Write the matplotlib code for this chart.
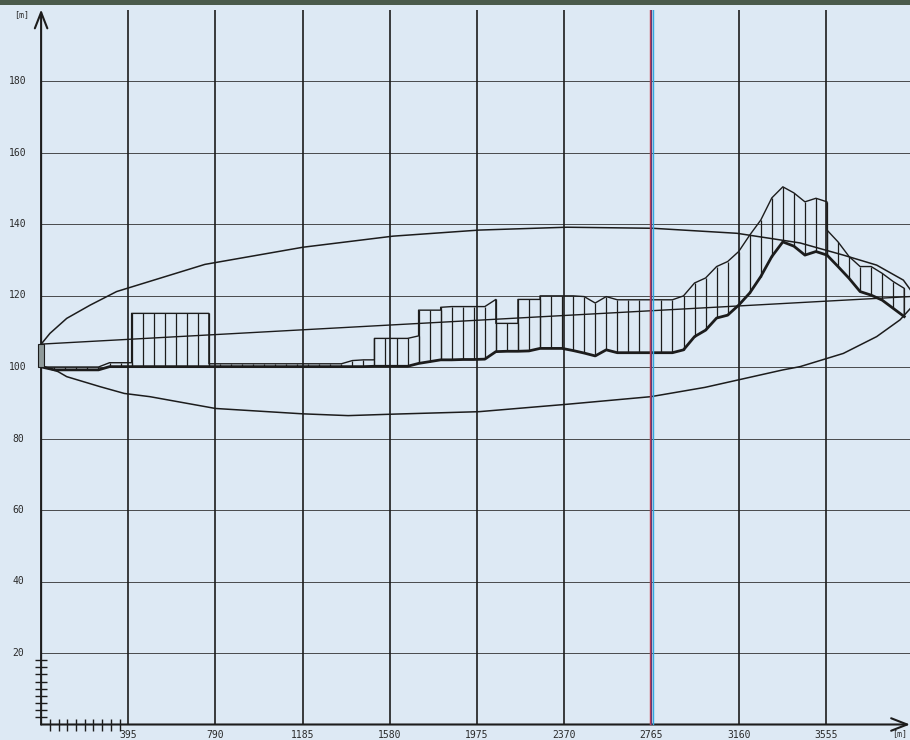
import numpy as np
import matplotlib.pyplot as plt
from matplotlib.patches import Rectangle

# chainage grid [m] and elevation grid [m]
grid_x = [395, 790, 1185, 1580, 1975, 2370, 2765, 3160, 3555]
grid_y = [20, 40, 60, 80, 100, 120, 140, 160, 180]
x_labels = ["395", "790", "1185", "1580", "1975", "2370", "2765", "3160", "3555"]

# profile stations: upper (thin) line, lower (thick) line
# a station listed twice is a vertical step in the upper line
station = [0, 10, 60, 110, 160, 210, 260, 310, 360, 410, 410, 460, 510, 560, 610, 660, 710, 760, 760,
           810, 860, 910, 960, 1010, 1060, 1110, 1160, 1210, 1260, 1310, 1360, 1410, 1460, 1510, 1510,
           1560, 1610, 1660, 1710, 1710, 1760, 1810, 1810, 1860, 1910, 1960, 2010, 2060, 2060, 2110,
           2160, 2160, 2210, 2260, 2260, 2310, 2360, 2410, 2460, 2510, 2560, 2610, 2660, 2710, 2760,
           2810, 2860, 2910, 2960, 3010, 3060, 3110, 3160, 3210, 3260, 3310, 3360, 3410, 3460, 3510,
           3560, 3560, 3610, 3660, 3710, 3760, 3810, 3860, 3910, 3910]
upper = [100.1, 100.0, 100.0, 100.0, 100.0, 100.0, 100.0, 101.2, 101.2, 101.2, 115.0, 115.0, 115.0, 115.0, 115.0, 115.0, 115.0, 115.0, 100.9,
         100.9, 100.9, 100.9, 100.9, 100.9, 100.9, 100.9, 100.9, 100.9, 100.9, 100.9, 100.9, 101.8, 102.0, 102.0, 108.0,
         108.0, 108.0, 108.0, 108.7, 115.9, 115.9, 115.9, 116.7, 116.9, 116.9, 116.9, 116.9, 118.9, 112.2, 112.2,
         112.2, 118.9, 118.9, 118.9, 119.9, 119.9, 119.9, 119.9, 119.7, 117.9, 119.7, 118.8, 118.8, 118.8, 118.8,
         118.8, 118.8, 119.9, 123.5, 124.9, 128.1, 129.5, 132.3, 136.9, 141.1, 147.3, 150.4, 148.7, 146.2, 147.2,
         146.2, 138.3, 135.0, 130.9, 128.1, 128.1, 126.2, 123.9, 122.0, 114.1]
lower = [100.1, 99.9, 99.2, 99.2, 99.2, 99.2, 99.2, 100.1, 100.1, 100.1, 100.1, 100.1, 100.1, 100.1, 100.1, 100.1, 100.1, 100.1, 100.1,
         100.1, 100.1, 100.1, 100.1, 100.1, 100.1, 100.1, 100.1, 100.1, 100.1, 100.1, 100.1, 100.1, 100.1, 100.2, 100.2,
         100.2, 100.2, 100.2, 101.0, 101.0, 101.5, 102.0, 102.0, 102.0, 102.1, 102.1, 102.2, 104.3, 104.3, 104.4,
         104.4, 104.4, 104.5, 105.2, 105.2, 105.2, 105.2, 104.6, 103.9, 103.1, 104.8, 104.0, 104.0, 104.0, 104.0,
         104.0, 104.0, 104.8, 108.5, 110.3, 113.7, 114.5, 117.3, 120.7, 125.3, 130.9, 135.0, 133.8, 131.3, 132.3,
         131.3, 131.3, 128.1, 124.8, 121.1, 120.1, 118.7, 116.4, 114.1, 114.1]

# straight regression line
trend_x = [0, 3936]
trend_y = [106.4, 119.7]

# envelope curve around the profile
env_x = [-30, 3, 40, 116, 222, 342, 742, 1186, 1594, 1984, 2382, 2772, 3152, 3438, 3634, 3785, 3906, 3972,
         3891, 3785, 3634, 3438, 3361, 3007, 2762, 2387, 1983, 1588, 1391, 1185, 790, 493, 377, 267, 116, 77, 2, -30]
env_y = [103.5, 106.6, 109.4, 113.6, 117.3, 121.1, 128.7, 133.5, 136.6, 138.3, 139.1, 138.8, 137.4, 134.7, 131.3, 128.5, 124.3, 118.7,
         113.2, 108.5, 103.8, 100.1, 99.2, 94.3, 91.7, 89.6, 87.5, 86.8, 86.4, 86.9, 88.4, 91.7, 92.6, 94.5, 97.3, 98.7, 100.3, 103.5]

start_mark = (100.0, 106.4)
marked_x = 2765

bg = "#dde9f4"
ink = "#1c1c1c"
font = "DejaVu Sans Mono"

fig = plt.figure(figsize=(9.1, 7.4), dpi=100, facecolor=bg)
ax = fig.add_axes([41.1 / 910, 15.5 / 740, 868.9 / 910, 715 / 740])
ax.set_facecolor(bg)
ax.set_xlim(0, 3936)
ax.set_ylim(0, 200)

for y in grid_y:
    ax.axhline(y, color="#2e2e2e", lw=0.7, alpha=0.85, zorder=1)
for x in grid_x:
    if x == marked_x:
        continue
    ax.axvline(x, color=ink, lw=1.2, zorder=1)
# the marked chainage is printed in colour
ax.axvline(marked_x - 6, color="#d23c4a", lw=1.0, zorder=5)
ax.axvline(marked_x, color="#5b3c78", lw=1.0, zorder=5)
ax.axvline(marked_x + 6, color="#2fa8e0", lw=1.0, zorder=5)

st = np.array(station)
up = np.array(upper)
lo = np.array(lower)
ax.vlines(st, lo, up, color=ink, lw=0.9, zorder=3)
ax.plot(st, up, color=ink, lw=1.0, zorder=3)
ax.plot(st, lo, color=ink, lw=2.0, zorder=4)

ax.plot(trend_x, trend_y, color=ink, lw=1.0, zorder=2)
ax.plot(env_x, env_y, color=ink, lw=1.1, zorder=2)

ax.add_patch(Rectangle((-14, start_mark[0]), 28, start_mark[1] - start_mark[0],
                       facecolor="#8f9a9a", edgecolor=ink, lw=0.8, zorder=6, clip_on=False))

# axes drawn as arrows
for s in ax.spines.values():
    s.set_visible(False)
arrow = dict(arrowstyle="->,head_length=1.15,head_width=0.45", lw=1.5, color=ink, shrinkA=0, shrinkB=0)
ax.annotate("", xy=(0, 200), xytext=(0, 0), arrowprops=arrow, annotation_clip=False)
ax.annotate("", xy=(3936, 0), xytext=(0, 0), arrowprops=arrow, annotation_clip=False)

ax.set_xticks(grid_x, x_labels, fontsize=7, fontfamily=font, color="#2a2a2a")
ax.set_yticks([])
ax.set_xticks([39.5 * k for k in range(1, 10)], minor=True)
ax.set_yticks([2 * k for k in range(1, 10)], minor=True)
ax.tick_params(which="major", axis="x", length=0, pad=4)
ax.tick_params(which="minor", direction="inout", length=9, width=1.0, color=ink)

for y in grid_y:
    ax.text(-0.0266, y, str(y), transform=ax.get_yaxis_transform(), ha="center", va="center",
            fontsize=7, fontfamily=font, color="#2a2a2a")

fig.text(22 / 910, 1 - 15 / 740, "[m]", ha="center", va="center", fontsize=6, fontfamily=font, color="#2a2a2a")
fig.text(892 / 910, 1 - 734 / 740, "[m]", ha="left", va="center", fontsize=6, fontfamily=font, color="#2a2a2a")

fig.add_artist(Rectangle((0, 1 - 5 / 740), 1, 5 / 740, transform=fig.transFigure,
                         facecolor="#4b5b4b", edgecolor="none"))

fig.savefig("out.png", dpi=100, facecolor=bg)
